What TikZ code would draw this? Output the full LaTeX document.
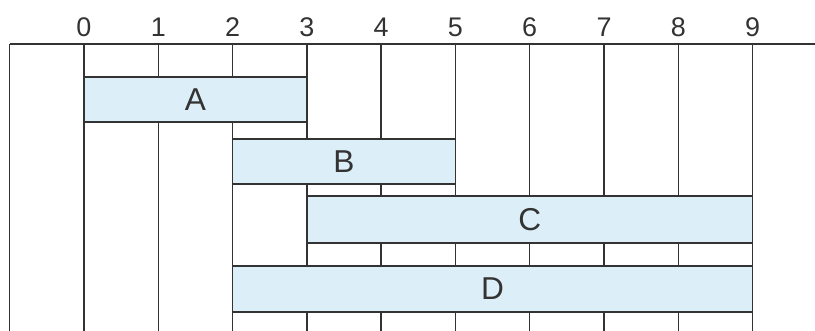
\documentclass[tikz,border=0pt]{standalone}
\usepackage{fontspec}
\setmainfont{Liberation Sans}
\definecolor{barblue}{HTML}{DCEEF7}
\definecolor{linegray}{HTML}{333333}
\begin{document}
\begin{tikzpicture}[x=2.229cm, y=1cm, line width=1.2pt, color=linegray,
	bar/.style={fill=barblue, draw=linegray},
	tick/.style={font=\fontsize{23}{27}\selectfont},
	barname/.style={font=\fontsize{27}{32}\selectfont}]
	\useasboundingbox (-1.13,0) rectangle (9.84,-9.93);
	
	% time axis
	\draw (-1,-1.32) -- (9.84,-1.32);
	\draw (-1,-1.32) -- (-1,-9.93);
	\foreach \t in {0,...,9} {
		\draw (\t,-1.32) -- (\t,-9.93);
		\node[tick] (t\t) at (\t,-0.81) {\t};
	}
	
	% bars
	\filldraw[bar] (0,-2.31) rectangle (3,-3.66);
	\filldraw[bar] (2,-4.17) rectangle (5,-5.52);
	\filldraw[bar] (3,-5.88) rectangle (9,-7.29);
	\filldraw[bar] (2,-7.98) rectangle (9,-9.36);
	
	\node[barname] (A) at (1.5,-2.985) {A};
	\node[barname] (B) at (3.5,-4.845) {B};
	\node[barname] (C) at (6,-6.585) {C};
	\node[barname] (D) at (5.5,-8.67) {D};
	
\end{tikzpicture}
\end{document}
